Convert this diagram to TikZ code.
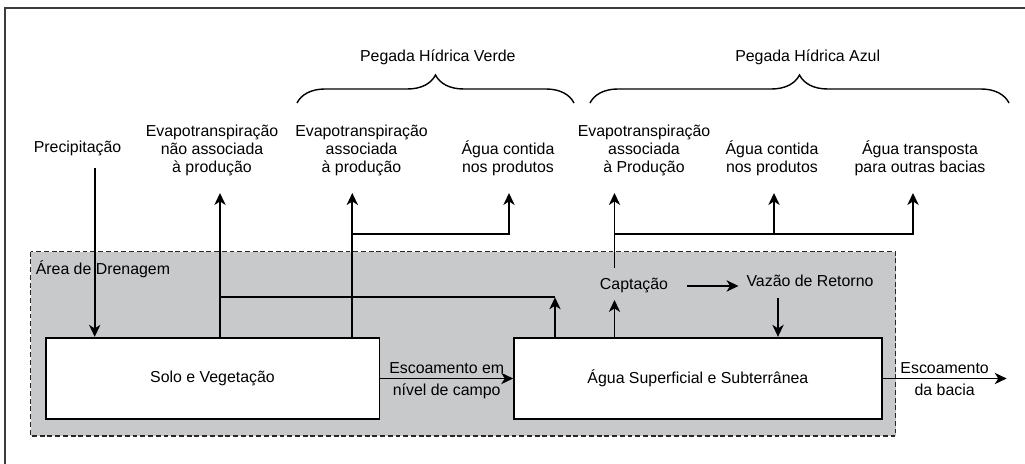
\documentclass[tikz,border=0pt]{standalone}
\usepackage{fontspec}
\setmainfont{Liberation Sans}
\usetikzlibrary{arrows.meta,decorations.pathreplacing}
\definecolor{areafill}{RGB}{200,201,203}
\definecolor{framegray}{RGB}{60,60,60}

\tikzset{
  stock/.style={draw, fill=white, line width=1.2pt, minimum height=2.04cm, inner sep=0pt},
  toplabel/.style={align=center, anchor=south, inner sep=0pt},
  flow/.style={-{Stealth[length=8.5pt,width=8pt,inset=2.5pt]}, line width=1.3pt},
  link/.style={line width=1.3pt},
  fpbrace/.style={decorate, decoration={brace, amplitude=0.7cm}, line width=1pt}
}

\begin{document}
\begin{tikzpicture}[x=0.025cm, y=-0.025cm, font=\fontsize{11.3}{13}\selectfont]
\useasboundingbox (0,0) rectangle (1025,464);
\draw[framegray, line width=0.9pt] (5,464) -- (5,8) -- (1025,8);

\draw[fill=areafill, draw=black!85, line width=0.9pt, dash pattern=on 3.5pt off 2pt]
  (30.7,251.7) rectangle (895.7,436);
\node[anchor=base west, inner sep=0pt] (area) at (35.5,275) {Área de Drenagem};

\node[stock, minimum width=8.34cm] (solo) at (212.5,378.5) {Solo e Vegetação};
\node[stock, minimum width=9.19cm] (agua) at (697.9,378.5) {Água Superficial e Subterrânea};

\node[toplabel] (prec) at (77.5,156.5) {Precipitação};
\node[toplabel] (evna) at (212,176.5) {Evapotranspiração\\não associada\\à produção};
\node[toplabel] (evv) at (361.5,176.5) {Evapotranspiração\\associada\\à produção};
\node[toplabel] (agv) at (508,176.5) {Água contida\\nos produtos};
\node[toplabel] (eva) at (644,176.5) {Evapotranspiração\\associada\\à Produção};
\node[toplabel] (aga) at (772,176.5) {Água contida\\nos produtos};
\node[toplabel] (agt) at (920,176.5) {Água transposta\\para outras bacias};

\draw[fpbrace] (297,103) -- (574,103);
\node[anchor=base] (pverde) at (437.8,62) {Pegada Hídrica Verde};
\draw[fpbrace] (590,103) -- (1009,103);
\node[anchor=base] (pazul) at (807.7,62) {Pegada Hídrica Azul};

\node[anchor=base, inner sep=0pt] (capt) at (634,290) {Captação};
\node[anchor=base, inner sep=0pt] (vaz) at (810,287) {Vazão de Retorno};

\coordinate (pin) at (94.7,168);
\coordinate (tevna) at (220,193);
\coordinate (tevv) at (352.3,193);
\coordinate (tagv) at (509,193);
\coordinate (teva) at (614.5,193);
\coordinate (taga) at (774,193);
\coordinate (tagt) at (913,193);
\coordinate (jv) at (352.3,234);
\coordinate (ja) at (614.5,234);
\coordinate (jna) at (220,297.3);
\coordinate (jr) at (555,297.3);
\coordinate (ctop) at (614.5,268);
\coordinate (cbot) at (614.5,300);
\coordinate (vout) at (778,298);
\coordinate (out) at (1006.7,378.5);

\draw[flow] (pin) -- (pin |- solo.north);
\draw[flow] (solo.north -| tevna) -- (tevna);
\draw[flow] (solo.north -| tevv) -- (tevv);
\draw[flow] (jv) -| (tagv);
\draw[link] (jna) -- (jr);
\draw[flow] (agua.north -| jr) -- (jr);

\draw[flow] (agua.north -| cbot) -- (cbot);
\draw[flow] (ctop) -- (teva);
\draw[flow] (ja) -| (tagt);
\draw[flow] (ja -| taga) -- (taga);
\draw[flow, shorten <=13.5pt, shorten >=5.5pt] (capt.east) -- (capt.east -| vaz.west);
\draw[flow] (vout) -- (vout |- agua.north);

\draw[flow] (solo.east) -- node[above, inner sep=3pt] {Escoamento em}
  node[below, inner sep=3pt] {nível de campo} (agua.west);
\draw[flow] (agua.east) -- node[above, inner sep=3pt] {Escoamento}
  node[below, inner sep=3pt] {da bacia} (out);
\end{tikzpicture}
\end{document}
